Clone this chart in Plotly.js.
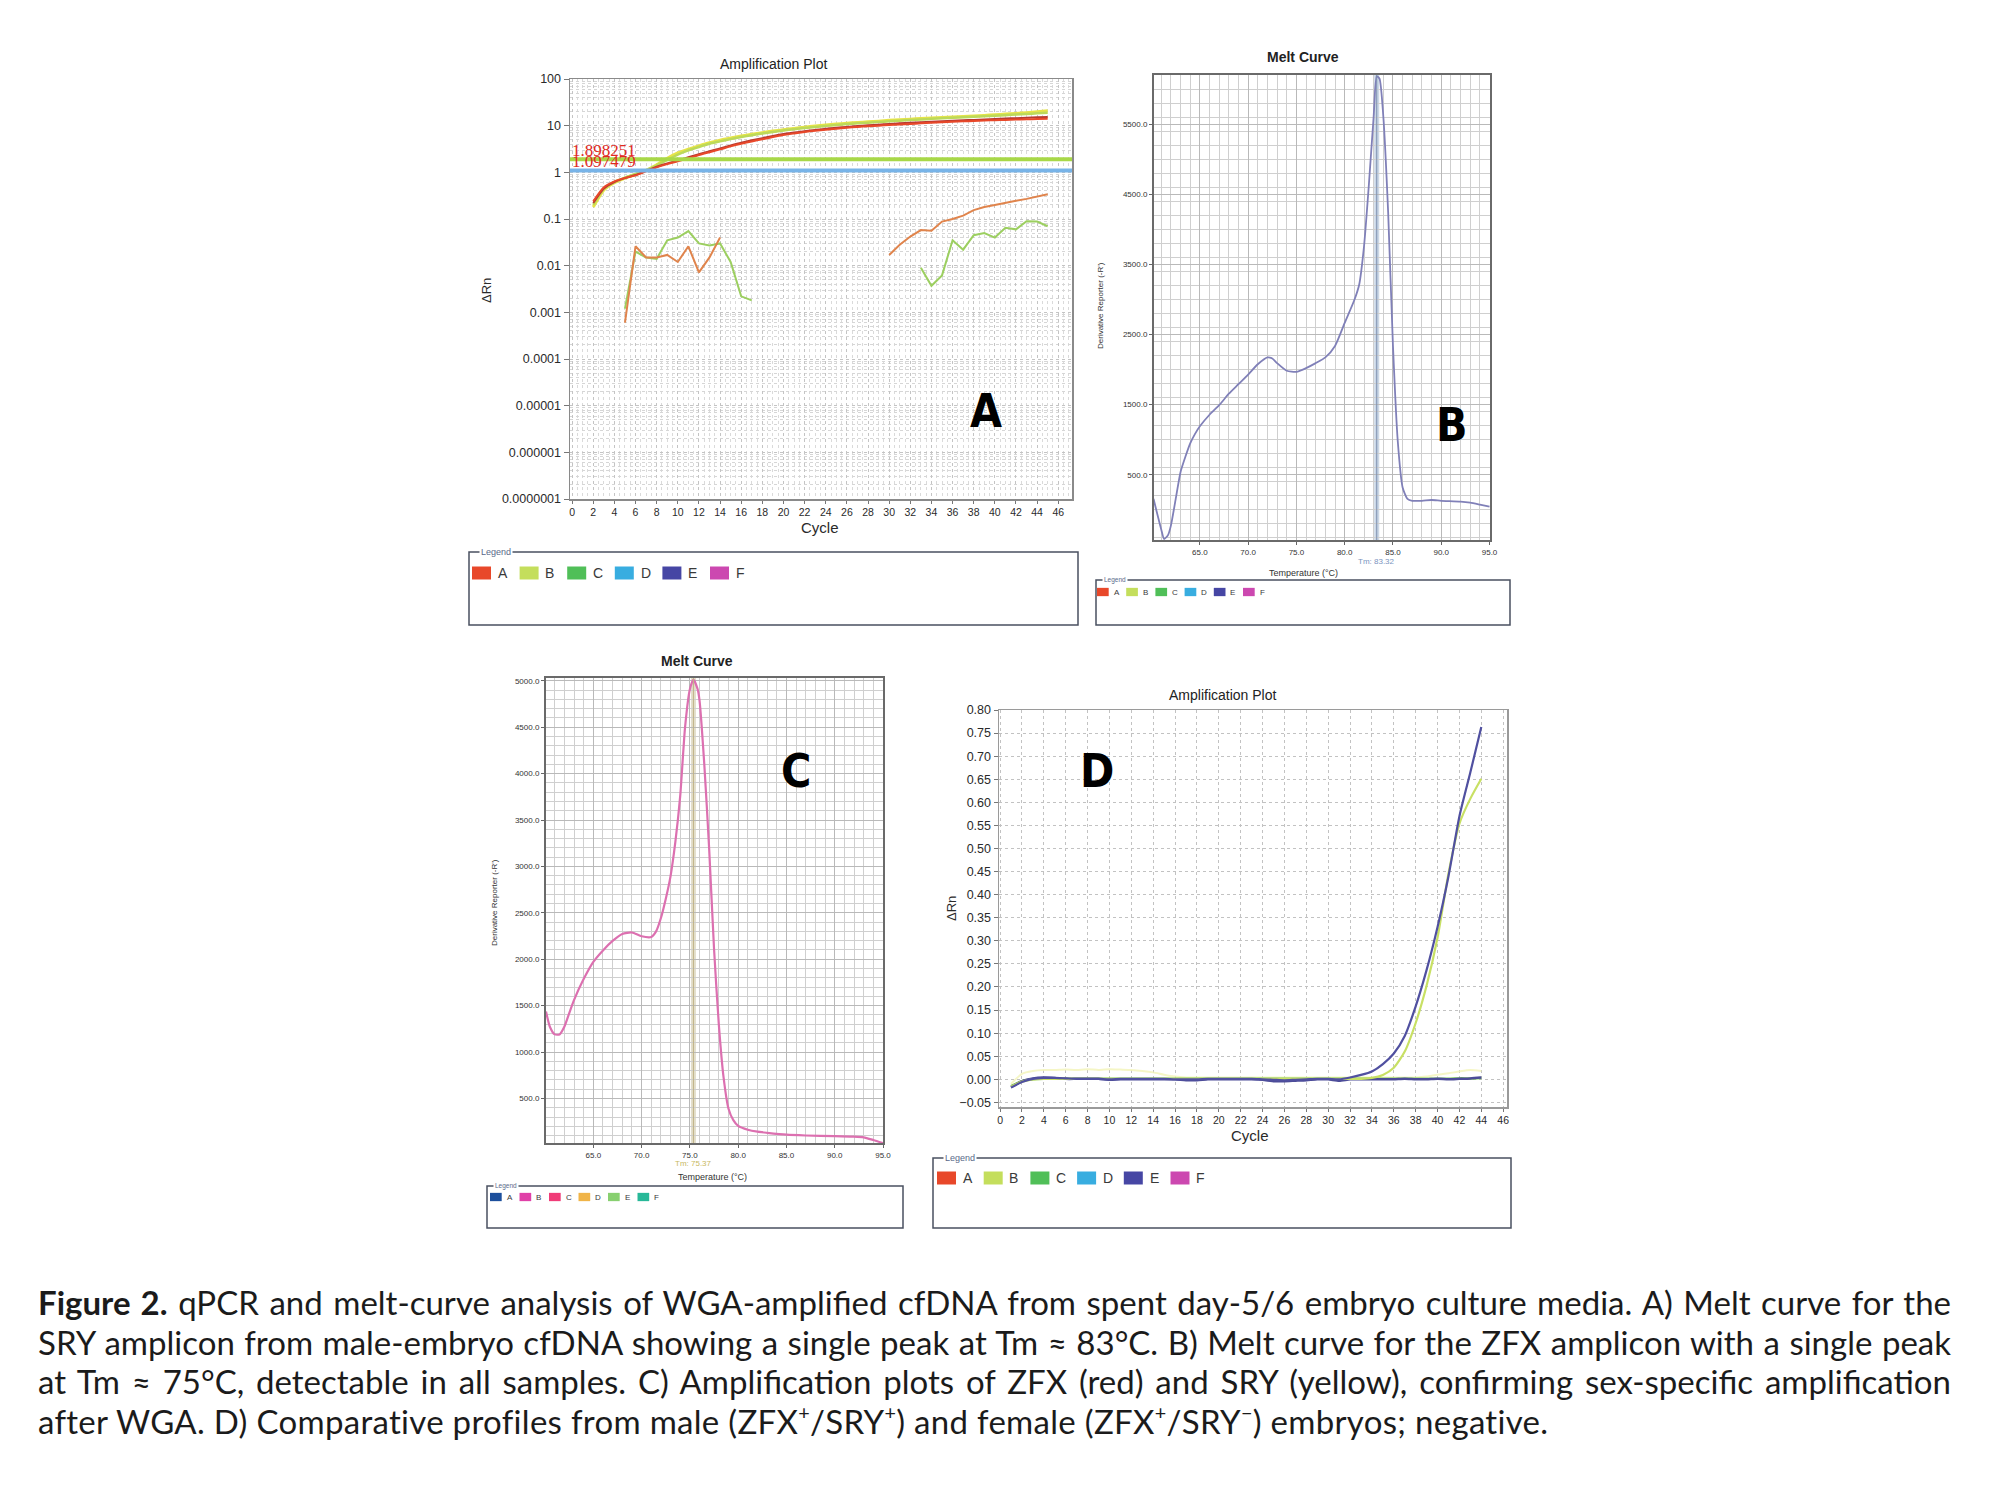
<!DOCTYPE html>
<html>
<head>
<meta charset="utf-8">
<script src="https://cdn.plot.ly/plotly-3.0.1.min.js"></script>
<style>
  html, body { margin: 0; padding: 0; background: #fff; }
  #page { position: relative; width: 2000px; height: 1486px; overflow: hidden; }
  #fig { position: absolute; left: 0; top: 0; width: 2000px; height: 1486px; }
  #caption {
    position: absolute; left: 38px; top: 1283px; width: 1913px;
    font-family: Lato, 'Open Sans', sans-serif; font-size: 33px; line-height: 39.6px; color: #1b1b1b;
  }
  #caption .ln { text-align: justify; text-align-last: justify; }
  #caption .ln.last { text-align: left; text-align-last: left; letter-spacing: 0.3px; }
  #caption sup { font-size: 60%; line-height: 0; vertical-align: 0.7em; }
</style>
</head>
<body>
<div id="page">
  <div id="fig"></div>
  <div id="caption">
    <div class="ln"><b>Figure 2.</b> qPCR and melt-curve analysis of WGA-amplified cfDNA from spent day-5/6 embryo culture media. A) Melt curve for the</div>
    <div class="ln">SRY amplicon from male-embryo cfDNA showing a single peak at Tm &asymp; 83&deg;C. B) Melt curve for the ZFX amplicon with a single peak</div>
    <div class="ln">at Tm &asymp; 75&deg;C, detectable in all samples. C) Amplification plots of ZFX (red) and SRY (yellow), confirming sex-specific amplification</div>
    <div class="ln last">after WGA. D) Comparative profiles from male (ZFX<sup>+</sup>/SRY<sup>+</sup>) and female (ZFX<sup>+</sup>/SRY<sup>&minus;</sup>) embryos; negative.</div>
  </div>
</div>
<script>
/* ── Panel A: amplification plot (log ΔRn) ─────────────────────────────── */
const cycA = [2, 3, 4, 5, 6, 7, 8, 9, 10, 11, 12, 13, 14, 15, 16, 17, 18, 19, 20, 21, 22, 23,
  24, 25, 26, 27, 28, 29, 30, 31, 32, 33, 34, 35, 36, 37, 38, 39, 40, 41, 42, 43, 44, 45];
const zfxA1 = [0.24, 0.48, 0.64, 0.76, 0.86, 1.05, 1.28, 1.5, 1.72, 2.0, 2.35, 2.7, 3.1, 3.6, 4.1, 4.6,
  5.1, 5.7, 6.3, 6.8, 7.3, 7.8, 8.2, 8.6, 9.0, 9.4, 9.7, 10.0, 10.3, 10.6, 10.9, 11.2, 11.5, 11.8,
  12.1, 12.4, 12.6, 12.9, 13.1, 13.3, 13.5, 13.7, 13.9, 14.0];
const zfxA2 = [0.22, 0.45, 0.62, 0.75, 0.88, 1.08, 1.32, 1.55, 1.8, 2.1, 2.45, 2.85, 3.25, 3.75, 4.3,
  4.85, 5.4, 6.0, 6.6, 7.1, 7.6, 8.1, 8.6, 9.0, 9.4, 9.8, 10.2, 10.5, 10.9, 11.2, 11.5, 11.8, 12.1,
  12.4, 12.7, 13.0, 13.3, 13.6, 13.9, 14.2, 14.5, 14.8, 15.1, 15.4];
const sryA1 = [0.18, 0.42, 0.6, 0.75, 0.9, 1.1, 1.45, 2.0, 2.6, 3.15, 3.7, 4.3, 4.9, 5.45, 6.0, 6.55,
  7.1, 7.65, 8.2, 8.75, 9.3, 9.8, 10.3, 10.8, 11.3, 11.7, 12.1, 12.5, 13.0, 13.4, 13.8, 14.2, 14.6,
  15.0, 15.3, 15.7, 16.1, 16.6, 17.1, 17.7, 18.3, 19.0, 19.8, 20.8];
const sryA2 = [0.2, 0.44, 0.62, 0.77, 0.92, 1.12, 1.4, 1.85, 2.4, 2.95, 3.5, 4.1, 4.6, 5.15, 5.7, 6.25,
  6.8, 7.35, 7.9, 8.4, 8.9, 9.4, 9.9, 10.35, 10.8, 11.2, 11.6, 12.0, 12.4, 12.8, 13.2, 13.6, 14.0,
  14.4, 14.7, 15.1, 15.5, 15.9, 16.3, 16.8, 17.3, 17.8, 18.4, 19.0];
// background-level traces below threshold
const noiseCycEarlyO = [5, 6, 7, 8, 9, 10, 11, 12, 13, 14];
const noiseEarlyO = [0.0006, 0.026, 0.015, 0.015, 0.017, 0.012, 0.026, 0.0072, 0.015, 0.04];
const noiseCycEarlyG = [5, 6, 7, 8, 9, 10, 11, 12, 13, 14, 15, 16, 17];
const noiseEarlyG = [0.0012, 0.02, 0.015, 0.014, 0.035, 0.04, 0.055, 0.03, 0.027, 0.03, 0.012, 0.0022, 0.0018];
const noiseCycLateO = [30, 31, 32, 33, 34, 35, 36, 37, 38, 39, 40, 41, 42, 43, 44, 45];
const noiseLateO = [0.017, 0.028, 0.042, 0.058, 0.056, 0.088, 0.1, 0.118, 0.155, 0.18, 0.2, 0.225, 0.245, 0.27, 0.3, 0.34];
const noiseCycLateG = [33, 34, 35, 36, 37, 38, 39, 40, 41, 42, 43, 44, 45];
const noiseLateG = [0.009, 0.0037, 0.0062, 0.035, 0.022, 0.045, 0.05, 0.04, 0.065, 0.06, 0.09, 0.088, 0.07];
const thresholdsA = [1.898251, 1.097479];
const logTickVals = [100, 10, 1, 0.1, 0.01, 0.001, 0.0001, 0.00001, 0.000001, 0.0000001];
const logTickText = ['100', '10', '1', '0.1', '0.01', '0.001', '0.0001', '0.00001', '0.000001', '0.0000001'];

/* ── Panel B: SRY melt curve ───────────────────────────────────────────── */
const tempB = [60.2, 61, 61.3, 61.7, 62, 62.5, 63, 63.5, 64, 64.5, 65, 66, 67, 68, 69, 70, 71, 72, 72.5,
  73, 74, 75, 76, 77, 78, 79, 80, 81, 81.5, 82, 82.5, 83, 83.32, 83.6, 84, 84.5, 85, 85.5, 86, 86.5,
  87, 88, 89, 90, 92, 93, 94, 95];
const derivB = [157, -280, -416, -360, -225, 157, 540, 756, 947, 1083, 1192, 1356, 1492, 1656, 1792,
  1929, 2076, 2174, 2158, 2092, 1983, 1967, 2021, 2092, 2174, 2337, 2665, 2992, 3210, 3755, 4628,
  5609, 6180, 6150, 5609, 4246, 2337, 974, 320, 157, 129, 129, 140, 129, 118, 102, 75, 47];
const tmB = 83.32;

/* ── Panel C: ZFX melt curve ───────────────────────────────────────────── */
const tempC = [60.1, 60.5, 61, 61.5, 62, 62.5, 63, 64, 65, 66, 67, 68, 69, 70, 71, 71.5, 72, 72.5, 73,
  73.5, 74, 74.5, 75, 75.37, 75.8, 76, 76.5, 77, 77.5, 78, 78.5, 79, 79.5, 80, 81, 82, 83, 85, 87,
  90, 92, 93, 94, 95];
const derivC = [1437, 1273, 1190, 1190, 1273, 1417, 1560, 1786, 1971, 2095, 2197, 2271, 2288, 2247,
  2239, 2300, 2444, 2650, 2896, 3266, 3759, 4499, 4910, 5013, 4910, 4787, 4088, 3184, 2115, 1293,
  718, 389, 266, 204, 163, 142, 130, 110, 101, 93, 89, 81, 52, 19];
const tmC = 75.37;

/* ── Panel D: amplification plot (linear ΔRn) ──────────────────────────── */
const cycD = [1, 2, 3, 4, 5, 6, 7, 8, 9, 10, 11, 12, 13, 14, 15, 16, 17, 18, 19, 20, 21, 22, 23, 24,
  25, 26, 27, 28, 29, 30, 31, 32, 33, 34, 35, 36, 37, 38, 39, 40, 41, 42, 43, 44];
const maleE = [-0.018, -0.006, 0.001, 0.003, 0.003, 0.002, 0.001, 0.001, 0.001, 0.0, 0.001, 0.001,
  0.001, 0.001, 0.001, 0.0, 0.0, 0.0, 0.001, 0.001, 0.001, 0.001, 0.001, 0.0, -0.001, -0.002, -0.001,
  0.0, 0.001, 0.001, 0.0, 0.004, 0.0095, 0.017, 0.033, 0.056, 0.094, 0.158, 0.237, 0.33, 0.44, 0.57,
  0.665, 0.763];
const maleB = [-0.016, -0.005, 0.0, 0.001, 0.001, 0.001, 0.001, 0.001, 0.001, 0.001, 0.001, 0.001,
  0.001, 0.001, 0.001, 0.001, 0.001, 0.001, 0.001, 0.001, 0.001, 0.001, 0.001, 0.001, 0.001, 0.001,
  0.001, 0.001, 0.001, 0.001, 0.001, 0.001, 0.001, 0.003, 0.0095, 0.025, 0.06, 0.122, 0.203, 0.307,
  0.446, 0.554, 0.608, 0.651];
const negE = [-0.017, -0.004, 0.002, 0.004, 0.003, 0.001, 0.001, 0.001, 0.001, -0.001, 0.0, 0.0, 0.0,
  0.0, 0.0, 0.0, -0.002, -0.002, 0.0, 0.0, 0.0, 0.0, 0.0, -0.001, -0.004, -0.004, -0.003, -0.002,
  0.0, 0.0, -0.003, 0.0, 0.0, 0.0, 0.0, 0.0, 0.001, 0.0, 0.0, 0.001, 0.0, 0.001, 0.002, 0.004];
const negG = [-0.015, -0.004, 0.0, 0.001, 0.001, 0.001, 0.001, 0.001, 0.001, 0.001, 0.001, 0.001,
  0.001, 0.001, 0.001, 0.001, 0.001, 0.001, 0.001, 0.001, 0.001, 0.001, 0.001, 0.001, 0.001, 0.001,
  0.001, 0.001, 0.001, 0.001, 0.001, 0.001, 0.001, 0.001, 0.001, 0.001, 0.001, 0.001, 0.001, 0.001,
  0.001, 0.002, 0.002, 0.003];
const faintB = [-0.01, 0.012, 0.018, 0.02, 0.02, 0.021, 0.02, 0.022, 0.02, 0.022, 0.021, 0.02, 0.018,
  0.015, 0.01, 0.006, 0.004, 0.004, 0.004, 0.004, 0.004, 0.004, 0.004, 0.004, 0.004, 0.004, 0.004,
  0.004, 0.004, 0.004, 0.004, 0.004, 0.004, 0.004, 0.004, 0.004, 0.004, 0.004, 0.006, 0.01, 0.013,
  0.017, 0.02, 0.018];

/* ── Legends ───────────────────────────────────────────────────────────── */
const wellNames = ['A', 'B', 'C', 'D', 'E', 'F'];
const wellColorsSet1 = ['#e8482a', '#c4de5c', '#50bf58', '#38ade0', '#4646a4', '#cc48b0'];
const wellColorsSet2 = ['#1c4f9c', '#e040a8', '#f03c78', '#f0b448', '#88d070', '#28b898'];

/* ── Page geometry (pixels on the 2000x1486 page) ──────────────────────── */
const W = 2000, H = 1486;
const px = v => v / W;
const py = v => 1 - v / H;
const boxA = { x: [570, 1072], y: [79, 499] };
const boxB = { x: [1154, 1490], y: [75, 540] };
const boxC = { x: [546, 883], y: [678, 1143] };
const boxD = { x: [999, 1507], y: [710, 1107] };
const dom = b => ({ x: [px(b.x[0]), px(b.x[1])], y: [py(b.y[1]), py(b.y[0])] });

const SANS = "'Liberation Sans', Arial, sans-serif";

function line(x, y, color, width, axes, opts) {
  const o = opts || {};
  return {
    type: 'scatter', mode: 'lines', x: x, y: y, xaxis: axes[0], yaxis: axes[1],
    line: { color: color, width: width, shape: o.linear ? 'linear' : 'spline', smoothing: 0.6 },
    opacity: o.opacity == null ? 1 : o.opacity,
    hoverinfo: 'skip', showlegend: false,
  };
}

const traces = [];

// Panel A
traces.push(line(noiseCycEarlyG, noiseEarlyG, '#9ccf60', 2, ['x', 'y'], { linear: true }));
traces.push(line(noiseCycEarlyO, noiseEarlyO, '#e0844c', 2, ['x', 'y'], { linear: true }));
traces.push(line(noiseCycLateO, noiseLateO, '#e0844c', 2, ['x', 'y'], { linear: true }));
traces.push(line(noiseCycLateG, noiseLateG, '#9ccf60', 2, ['x', 'y'], { linear: true }));
traces.push(line(cycA, sryA1, '#e6e448', 3, ['x', 'y']));
traces.push(line(cycA, sryA2, '#bcd95a', 2.5, ['x', 'y']));
traces.push(line(cycA, zfxA2, '#b83a30', 2, ['x', 'y']));
traces.push(line(cycA, zfxA1, '#e8482a', 2, ['x', 'y']));

// Panel B
traces.push(line(tempB, derivB, '#8080b8', 1.8, ['x2', 'y2']));

// Panel C
traces.push(line(tempC, derivC, '#dc70b0', 2.2, ['x3', 'y3']));

// Panel D
traces.push(line(cycD, faintB, '#f2f4b8', 2, ['x4', 'y4'], { opacity: 0.8 }));
traces.push(line(cycD, negG, '#7cc85a', 2.5, ['x4', 'y4']));
traces.push(line(cycD, negE, '#4c4c98', 2.5, ['x4', 'y4']));
traces.push(line(cycD, maleB, '#c8e064', 2.2, ['x4', 'y4']));
traces.push(line(cycD, maleE, '#5050a0', 2.2, ['x4', 'y4']));

/* ── Axes ──────────────────────────────────────────────────────────────── */
const dA = dom(boxA), dB = dom(boxB), dC = dom(boxC), dD = dom(boxD);

const minorLog = [];
for (let k = -7; k < 2; k++) {
  for (let m = 2; m <= 9; m++) minorLog.push(m * Math.pow(10, k));
}

const ampYFont = { family: SANS, size: 12.5, color: '#2a2a2a' };
const ampXFont = { family: SANS, size: 10.5, color: '#2a2a2a' };
const meltTickFont = { family: SANS, size: 8, color: '#333' };

function meltX(d, anchor, range) {
  return {
    domain: d.x, anchor: anchor, range: range,
    tick0: 65, dtick: 5, tickformat: '.1f', ticks: 'outside', ticklen: 3, tickcolor: '#666',
    tickfont: meltTickFont, showgrid: true, gridcolor: '#b9b9b9', gridwidth: 1,
    minor: { dtick: 1, showgrid: true, gridcolor: '#cfcfcf', gridwidth: 1 },
    showline: true, linecolor: '#6a6a6a', linewidth: 2, mirror: true, zeroline: false,
  };
}
function meltY(d, anchor, range, tick0, dtick, minor) {
  return {
    domain: d.y, anchor: anchor, range: range, tick0: tick0, dtick: dtick, tickformat: '.1f',
    ticks: 'outside', ticklen: 3, tickcolor: '#666', tickfont: meltTickFont,
    showgrid: true, gridcolor: '#b9b9b9', gridwidth: 1,
    minor: { dtick: minor, showgrid: true, gridcolor: '#cfcfcf', gridwidth: 1 },
    showline: true, linecolor: '#6a6a6a', linewidth: 2, mirror: true, zeroline: false,
  };
}

const layout = {
  width: W, height: H,
  margin: { l: 0, r: 0, t: 0, b: 0 },
  paper_bgcolor: '#ffffff', plot_bgcolor: '#ffffff',
  font: { family: SANS, color: '#222' },
  showlegend: false,
  xaxis: {
    domain: dA.x, anchor: 'y', range: [-0.2, 47.3], tick0: 0, dtick: 2,
    ticks: 'outside', ticklen: 3, tickcolor: '#777', tickfont: ampXFont,
    showgrid: true, gridcolor: '#c4c4c4', griddash: 'dot', gridwidth: 1,
    minor: { dtick: 0.5, showgrid: true, gridcolor: '#dadada', griddash: 'dot', gridwidth: 1 },
    showline: true, linecolor: '#8a8a8a', linewidth: 1.5, mirror: true, zeroline: false,
  },
  yaxis: {
    domain: dA.y, anchor: 'x', type: 'log', range: [-7, 2],
    tickvals: logTickVals, ticktext: logTickText,
    ticks: 'outside', ticklen: 5, tickcolor: '#777', tickfont: ampYFont,
    showgrid: true, gridcolor: '#c4c4c4', griddash: 'dot', gridwidth: 1,
    minor: { tickvals: minorLog, showgrid: true, gridcolor: '#d6d6d6', griddash: 'dot', gridwidth: 1 },
    showline: true, linecolor: '#8a8a8a', linewidth: 1.5, mirror: true, zeroline: false,
  },
  xaxis2: meltX(dB, 'y2', [60.25, 95.05]),
  yaxis2: meltY(dB, 'x2', [-430, 6200], 500, 1000, 200),
  xaxis3: meltX(dC, 'y3', [60.1, 95.0]),
  yaxis3: meltY(dC, 'x3', [20, 5030], 500, 500, 100),
  xaxis4: {
    domain: dD.x, anchor: 'y4', range: [-0.1, 46.35], tick0: 0, dtick: 2,
    ticks: 'outside', ticklen: 3, tickcolor: '#777', tickfont: ampXFont,
    showgrid: true, gridcolor: '#c2c2c2', griddash: 'dot', gridwidth: 1,
    showline: true, linecolor: '#9a9a9a', linewidth: 1.5, mirror: true, zeroline: false,
  },
  yaxis4: {
    domain: dD.y, anchor: 'x4', range: [-0.06, 0.80], tick0: 0, dtick: 0.05, tickformat: '.2f',
    ticks: 'outside', ticklen: 4, tickcolor: '#777', tickfont: ampYFont,
    showgrid: true, gridcolor: '#c2c2c2', griddash: 'dot', gridwidth: 1,
    showline: true, linecolor: '#9a9a9a', linewidth: 1.5, mirror: true, zeroline: false,
  },
};

/* ── Legend boxes (fieldset style, one per panel) ──────────────────────── */
const legendBoxes = [
  { box: [469, 552, 1078, 625], first: 472, yc: 573, step: 47.6, sw: 19, sh: 13, font: 14, label: 9, colors: wellColorsSet1 },
  { box: [1096, 580, 1510, 625], first: 1097, yc: 592, step: 29.2, sw: 11.7, sh: 8.3, font: 8, label: 6.5, colors: wellColorsSet1 },
  { box: [487, 1186, 903, 1228], first: 490, yc: 1197, step: 29.5, sw: 11.7, sh: 8.3, font: 8, label: 6.5, colors: wellColorsSet2 },
  { box: [933, 1158, 1511, 1228], first: 937, yc: 1178, step: 46.7, sw: 19, sh: 13, font: 14, label: 9, colors: wellColorsSet1 },
];
const shapes = [];
const annotations = [];
legendBoxes.forEach(lb => {
  shapes.push({
    type: 'rect', xref: 'paper', yref: 'paper',
    x0: px(lb.box[0]), x1: px(lb.box[2]), y0: py(lb.box[1]), y1: py(lb.box[3]),
    line: { color: '#4a5060', width: 1.5 }, fillcolor: 'rgba(0,0,0,0)',
  });
  annotations.push({
    xref: 'paper', yref: 'paper', x: px(lb.box[0] + lb.sw * 0.5), y: py(lb.box[1]),
    xanchor: 'left', yanchor: 'middle', text: 'Legend', showarrow: false,
    bgcolor: '#ffffff', borderpad: 1, font: { family: SANS, size: lb.label, color: '#5a6a8a' },
  });
  wellNames.forEach((n, i) => {
    const x0 = lb.first + i * lb.step;
    shapes.push({
      type: 'rect', xref: 'paper', yref: 'paper',
      x0: px(x0), x1: px(x0 + lb.sw), y0: py(lb.yc + lb.sh / 2), y1: py(lb.yc - lb.sh / 2),
      line: { width: 0 }, fillcolor: lb.colors[i],
    });
    annotations.push({
      xref: 'paper', yref: 'paper', x: px(x0 + lb.sw + lb.sw * 0.25), y: py(lb.yc),
      xanchor: 'left', yanchor: 'middle', text: n, showarrow: false,
      font: { family: SANS, size: lb.font, color: '#3a3a3a' },
    });
  });
});

// threshold lines in panel A
const thresholdColors = ['#a8d848', '#78b4e8'];
thresholdsA.forEach((t, i) => {
  shapes.push({
    type: 'line', xref: 'x domain', yref: 'y', x0: 0, x1: 1, y0: t, y1: t,
    line: { color: thresholdColors[i], width: 4 }, layer: 'above',
  });
  annotations.push({
    xref: 'x domain', yref: 'y', x: 0.0, y: Math.log10(t), xanchor: 'left', yanchor: 'bottom',
    text: String(t), showarrow: false, yshift: -3,
    font: { family: "'Liberation Serif', 'DejaVu Serif', serif", size: 17, color: '#e02a1e' },
  });
});

// Tm markers on melt curves
shapes.push({
  type: 'line', xref: 'x2', yref: 'y2 domain', x0: tmB, x1: tmB, y0: 0, y1: 1,
  line: { color: 'rgba(150,175,205,0.5)', width: 5 }, layer: 'below',
});
shapes.push({
  type: 'line', xref: 'x2', yref: 'y2 domain', x0: tmB, x1: tmB, y0: 0, y1: 1,
  line: { color: '#7d8fb0', width: 1 },
});
shapes.push({
  type: 'line', xref: 'x3', yref: 'y3 domain', x0: tmC, x1: tmC, y0: 0, y1: 1,
  line: { color: 'rgba(200,190,150,0.5)', width: 5 }, layer: 'below',
});
shapes.push({
  type: 'line', xref: 'x3', yref: 'y3 domain', x0: tmC, x1: tmC, y0: 0, y1: 1,
  line: { color: '#c0b488', width: 1 },
});
annotations.push({
  xref: 'x2', yref: 'paper', x: tmB, y: py(boxB.y[1] + 21), text: 'Tm: ' + tmB, showarrow: false,
  font: { family: SANS, size: 8, color: '#7a94c0' },
});
annotations.push({
  xref: 'x3', yref: 'paper', x: tmC, y: py(boxC.y[1] + 27), text: 'Tm: ' + tmC, showarrow: false,
  font: { family: SANS, size: 8, color: '#c8b860' },
});

/* ── Titles, axis titles, panel letters ────────────────────────────────── */
function note(x, y, text, font, extra) {
  annotations.push(Object.assign({
    xref: 'paper', yref: 'paper', x: px(x), y: py(y), text: text, showarrow: false,
    xanchor: 'center', yanchor: 'middle', font: font,
  }, extra || {}));
}
note(773, 64, 'Amplification Plot', { family: SANS, size: 14, color: '#222' });
note(1303, 57, '<b>Melt Curve</b>', { family: SANS, size: 14, color: '#222' });
note(697, 661, '<b>Melt Curve</b>', { family: SANS, size: 14, color: '#222' });
note(1222, 695, 'Amplification Plot', { family: SANS, size: 14, color: '#222' });

note(820, 528, 'Cycle', { family: SANS, size: 15, color: '#2a2a2a' });
note(1250, 1135, 'Cycle', { family: SANS, size: 15, color: '#2a2a2a' });
note(1303, 573, 'Temperature (°C)', { family: SANS, size: 9, color: '#333' });
note(712, 1177, 'Temperature (°C)', { family: SANS, size: 9, color: '#333' });
note(486, 291, 'ΔRn', { family: SANS, size: 13, color: '#2a2a2a' }, { textangle: -90 });
note(951, 909, 'ΔRn', { family: SANS, size: 13, color: '#2a2a2a' }, { textangle: -90 });
note(1100, 306, "Derivative Reporter (-R')", { family: SANS, size: 8, color: '#333' }, { textangle: -90 });
note(494, 903, "Derivative Reporter (-R')", { family: SANS, size: 8, color: '#333' }, { textangle: -90 });

const letterFont = { family: "'DejaVu Sans Condensed', 'DejaVu Sans', sans-serif", size: 46, color: '#000', weight: 900 };
note(986, 411, '<b>A</b>', letterFont);
note(1452, 425, '<b>B</b>', letterFont);
note(796, 771, '<b>C</b>', letterFont);
note(1097, 771, '<b>D</b>', letterFont);

layout.shapes = shapes;
layout.annotations = annotations;

Plotly.newPlot('fig', traces, layout, { staticPlot: true, displayModeBar: false });
</script>
</body>
</html>
